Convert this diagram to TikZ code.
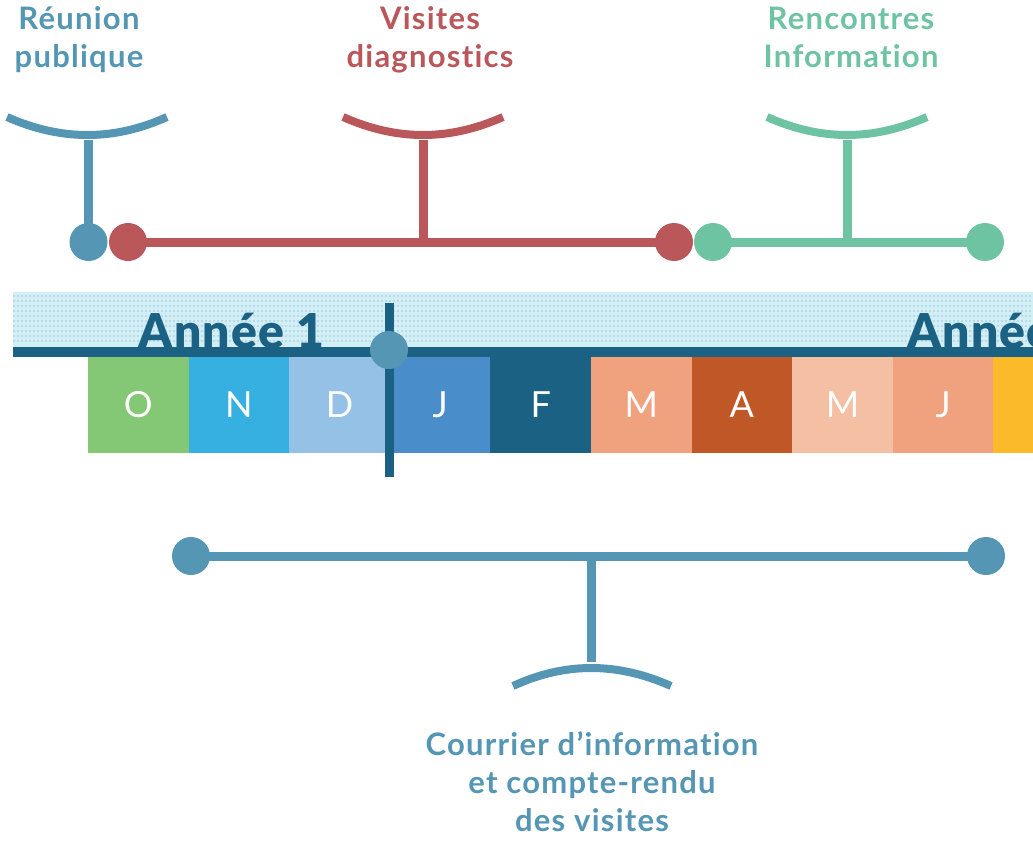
\documentclass[tikz,border=0pt]{standalone}
\usepackage{fontspec}
\setmainfont{Lato}[Ligatures=NoCommon]
\newfontfamily\latoblack{Lato Black}[Ligatures=NoCommon]
\definecolor{cblue}{HTML}{5496B4}
\definecolor{cred}{HTML}{B9575B}
\definecolor{cgreen}{HTML}{6EC4A2}
\definecolor{cdark}{HTML}{1B6184}
\definecolor{cband}{HTML}{D3EEF4}
\definecolor{cbandd}{HTML}{B3DCE8}
\definecolor{mO}{HTML}{84C774}
\definecolor{mN}{HTML}{35B0E0}
\definecolor{mD}{HTML}{95C1E6}
\definecolor{mJ}{HTML}{4A8DCB}
\definecolor{mF}{HTML}{1B6184}
\definecolor{mM}{HTML}{F0A27E}
\definecolor{mA}{HTML}{C05726}
\definecolor{mMb}{HTML}{F4BFA3}
\definecolor{mY}{HTML}{FBBA2A}
\tikzset{
  lbl/.style={font=\bfseries\fontsize{31}{37}\selectfont\addfontfeatures{LetterSpace=4}, inner sep=0pt, anchor=base},
  yr/.style={font=\latoblack\fontsize{48}{50}\selectfont\addfontfeatures{LetterSpace=2.5}, text=cdark, inner sep=0pt, anchor=base},
  bar/.style={line width=9pt},
  arcline/.style={line width=8pt},
  dot/.style={circle, minimum size=38pt, inner sep=0pt},
  mon/.style={minimum width=100.6pt, minimum height=96pt, inner sep=0pt, text=white, font=\fontsize{36}{40}\selectfont},
}
\begin{document}
\begin{tikzpicture}[x=1pt,y=-1pt]
\useasboundingbox (0,0) rectangle (1033,843);
\clip (0,0) rectangle (1033,843);
% textured band
\fill[cband] (13,292) rectangle (1033,347);
\foreach \yy in {296,301,...,344}
  \draw[cbandd, line width=1.3pt, dash pattern=on 2pt off 2pt] (13,\yy) -- (1033,\yy);
% dark line
\fill[cdark] (13,347) rectangle (1033,357);
% months
\node[mon, fill=mO]  (m1) at (138.3,405) {O};
\node[mon, fill=mN]  (m2) at (238.9,405) {N};
\node[mon, fill=mD]  (m3) at (339.5,405) {D};
\node[mon, fill=mJ]  (m4) at (440.1,405) {J};
\node[mon, fill=mF]  (m5) at (540.7,405) {F};
\node[mon, fill=mM]  (m6) at (641.3,405) {M};
\node[mon, fill=mA]  (m7) at (741.9,405) {A};
\node[mon, fill=mMb] (m8) at (842.5,405) {M};
\node[mon, fill=mM]  (m9) at (943.1,405) {J};
\node[mon, fill=mY]  (m10) at (1043.7,405) {};
% year labels
\node[yr] (y1) at (231.5,348) {Année 1};
\node[yr, anchor=base west] (y2) at (907,348) {Année};
% today marker
\coordinate (mtop) at (389,303);
\coordinate (mbot) at (389,477);
\draw[cdark, line width=9pt] (mtop) -- (mbot);
\node[dot, fill=cblue] (mdot) at (389,350) {};

% ---- Réunion publique (blue)
\node[lbl, text=cblue] (t1a) at (79,30) {Réunion};
\node[lbl, text=cblue] (t1b) at (79,67) {publique};
\coordinate (a1l) at (7,117);
\coordinate (a1r) at (167,117);
\coordinate (a1b) at (88.5,140);
\draw[cblue, arcline] (a1l) .. controls (61,141) and (114,141) .. (a1r);
\node[dot, fill=cblue] (d1) at (88.5,242) {};
\draw[cblue, bar] (a1b) -- (d1.center);

% ---- Visites diagnostics (red)
\node[lbl, text=cred] (t2a) at (430,30) {Visites};
\node[lbl, text=cred] (t2b) at (430,67) {diagnostics};
\coordinate (a2l) at (343,117);
\coordinate (a2r) at (503,117);
\coordinate (a2b) at (423,140);
\coordinate (j2) at (423,242);
\draw[cred, arcline] (a2l) .. controls (397,141) and (449,141) .. (a2r);
\node[dot, fill=cred] (d2) at (128,242) {};
\node[dot, fill=cred] (d3) at (674,242) {};
\draw[cred, bar] (d2.center) -- (d3.center);
\draw[cred, bar] (a2b) -- (j2);

% ---- Rencontres Information (green)
\node[lbl, text=cgreen] (t3a) at (851,30) {Rencontres};
\node[lbl, text=cgreen] (t3b) at (851,67) {Information};
\coordinate (a3l) at (767,117);
\coordinate (a3r) at (927,117);
\coordinate (a3b) at (847,140);
\coordinate (j3) at (847,242);
\draw[cgreen, arcline] (a3l) .. controls (821,141) and (873,141) .. (a3r);
\node[dot, fill=cgreen] (d4) at (713,242) {};
\node[dot, fill=cgreen] (d5) at (985,242) {};
\draw[cgreen, bar] (d4.center) -- (d5.center);
\draw[cgreen, bar] (a3b) -- (j3);

% ---- Courrier (blue, bottom)
\node[dot, fill=cblue] (d6) at (191,556) {};
\node[dot, fill=cblue] (d7) at (986,556) {};
\draw[cblue, bar] (d6.center) -- (d7.center);
\coordinate (j4) at (591,556);
\coordinate (a4t) at (591,662);
\coordinate (a4l) at (513,686);
\coordinate (a4r) at (671,686);
\draw[cblue, bar] (j4) -- (a4t);
\draw[cblue, arcline] (a4l) .. controls (565,662) and (617,662) .. (a4r);
\node[lbl, text=cblue] (t4a) at (592,755) {Courrier d’information};
\node[lbl, text=cblue] (t4b) at (592,793) {et compte-rendu};
\node[lbl, text=cblue] (t4c) at (592,831) {des visites};
\end{tikzpicture}
\end{document}
